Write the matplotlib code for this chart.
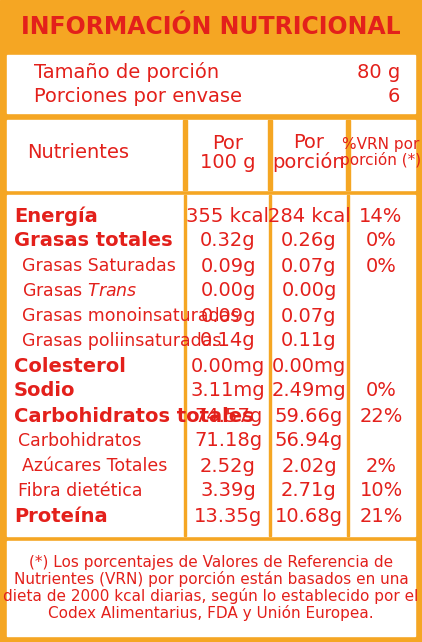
import matplotlib
matplotlib.use("Agg")
import matplotlib.pyplot as plt
from matplotlib.patches import Rectangle

title = "INFORMACIÓN NUTRICIONAL"
serving = [("Tamaño de porción", "80 g"), ("Porciones por envase", "6")]
col_headers = ["Nutrientes", "Por\n100 g", "Por\nporción", "%VRN por\nporción (*)"]
nutrients = ["Energía", "Grasas totales", "Grasas Saturadas", "Grasas Trans", "Grasas monoinsaturadas",
             "Grasas poliinsaturadas", "Colesterol", "Sodio", "Carbohidratos totales", "Carbohidratos",
             "Azúcares Totales", "Fibra dietética", "Proteína"]
bold = [True, True, False, False, False, False, True, True, True, False, False, False, True]
indent = [0, 0, 1, 1, 1, 1, 0, 0, 0, 0.5, 1, 0.5, 0]
per100 = ["355 kcal", "0.32g", "0.09g", "0.00g", "0.09g", "0.14g", "0.00mg", "3.11mg", "74.57g", "71.18g", "2.52g", "3.39g", "13.35g"]
perport = ["284 kcal", "0.26g", "0.07g", "0.00g", "0.07g", "0.11g", "0.00mg", "2.49mg", "59.66g", "56.94g", "2.02g", "2.71g", "10.68g"]
vrn = ["14%", "0%", "0%", "", "", "", "", "0%", "22%", "", "2%", "10%", "21%"]
footnote = ("(*) Los porcentajes de Valores de Referencia de\nNutrientes (VRN) por porción están basados en una\n"
            "dieta de 2000 kcal diarias, según lo establecido por el\nCodex Alimentarius, FDA y Unión Europea.")

OR = "#F5A623"; RED = "#E3201B"
FONT = ["Liberation Sans Narrow", "DejaVu Sans"]
plt.rcParams['font.family'] = FONT

fig = plt.figure(figsize=(4.22, 6.42), dpi=100)
ax = fig.add_axes([0, 0, 1, 1])
ax.set_xlim(0, 422); ax.set_ylim(642, 0); ax.axis("off")
ax.add_patch(Rectangle((0, 0), 422, 642, color=OR))
boxes = [(55, 113), (120, 190), (195, 536), (541, 636)]
for y0, y1 in boxes:
    ax.add_patch(Rectangle((7, y0), 408, y1 - y0, color="white"))
ax.text(211, 27, title, color=RED, fontsize=17, fontweight="bold", ha="center", va="center")
for i, (a, b) in enumerate(serving):
    y = 72 + i * 25
    ax.text(34, y, a, color=RED, fontsize=14, va="center")
    ax.text(400, y, b, color=RED, fontsize=14, va="center", ha="right")
xs = [185, 270, 348]
for x in xs:
    ax.add_patch(Rectangle((x - 2, 120), 4, 70, color=OR))
    ax.add_patch(Rectangle((x - 1, 195), 2, 341, color=OR))
centers = [78, 228, 309, 381]
for i, h in enumerate(col_headers):
    ax.text(centers[i], 153, h, color=RED, fontsize=14 if i < 3 else 11, ha="center", va="center",
            linespacing=1.0)
for i, n in enumerate(nutrients):
    y = 216 + i * 25
    x = 14 + indent[i] * 8
    if n == "Grasas Trans":
        ax.text(x, y, "Grasas $\\it{Trans}$", color=RED, fontsize=12.5, va="center")
    else:
        ax.text(x, y, n, color=RED, fontsize=14 if bold[i] else 12.5,
                fontweight="bold" if bold[i] else "normal", va="center")
    for j, v in enumerate([per100[i], perport[i], vrn[i]]):
        ax.text(centers[j + 1], y, v, color=RED, fontsize=14, ha="center", va="center")
ax.text(211, 588, footnote, color=RED, fontsize=11, ha="center", va="center", linespacing=1.1)
fig.savefig("out.png", dpi=100)
